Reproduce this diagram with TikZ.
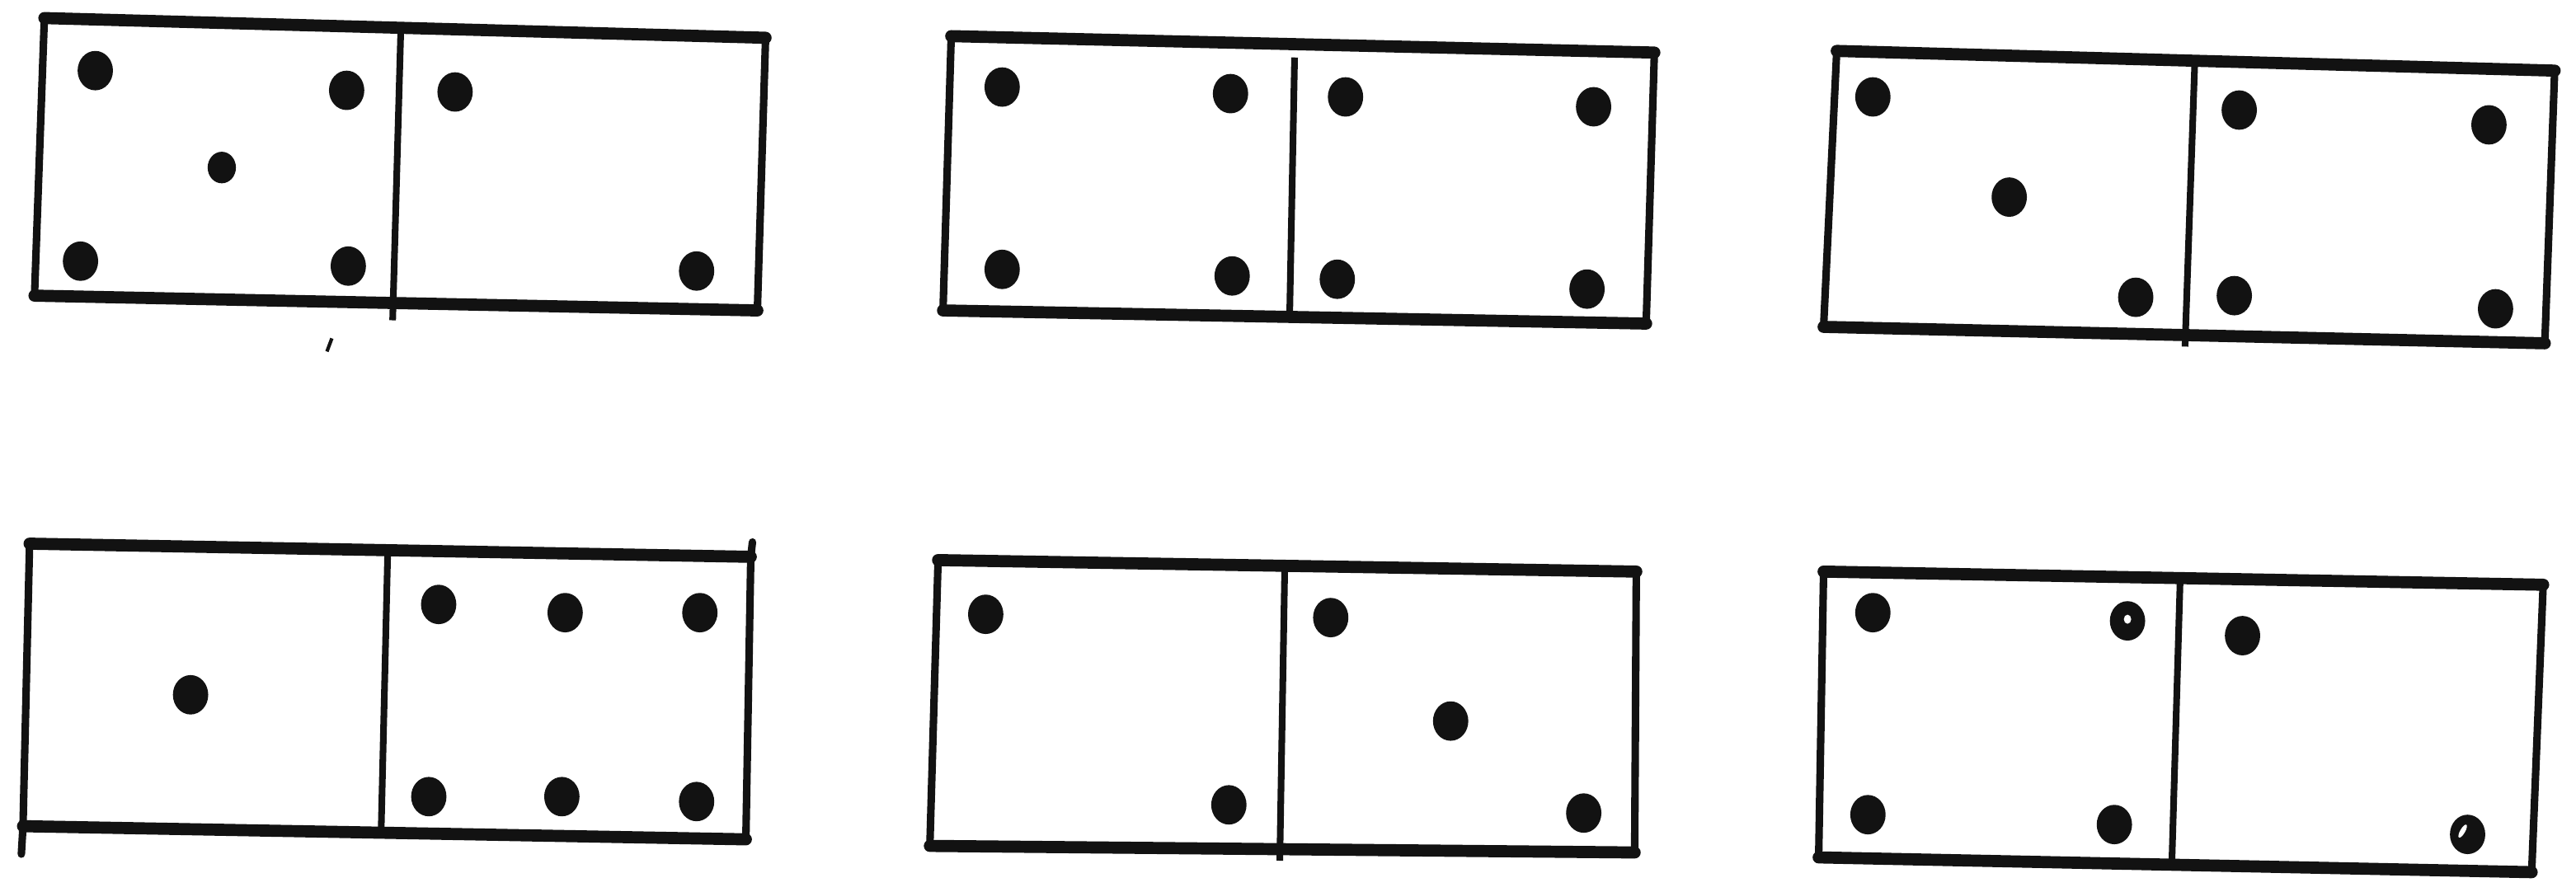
\documentclass[tikz,border=0pt]{standalone}
\usepackage{tikz}
\definecolor{tinta}{HTML}{121212}
\tikzset{
  borda/.style={draw=tinta, line width=4.2pt, line cap=round},
  lado/.style={draw=tinta, line width=2.6pt, line cap=round},
  meio/.style={draw=tinta, line width=2.3pt},
}
\newcommand{\pinta}[2][1]{%
  \fill[tinta] #2 ellipse[x radius=#1*2.15mm, y radius=#1*2.4mm];}
\newcommand{\pedra}[6]{%
  \draw[borda] #1 -- #2;
  \draw[borda] #4 -- #3;
  \draw[lado] #1 -- #4;
  \draw[lado] #2 -- #3;
  \draw[meio] #5 -- #6;}

\begin{document}
\begin{tikzpicture}[x=0.2mm, y=-0.2mm]
  \useasboundingbox (0,0) rectangle (1568,543);
  % fila de cima
  \pedra{(27,11)}{(466,23)}{(461,189)}{(21,180)}{(244,17)}{(239,195)}
  \foreach \x/\y in {58/43, 211/55, 49/159, 212/162, 277/56, 424/165}
    \pinta{(\x,\y)};
  \pinta[0.8]{(135,102)}
  \draw[tinta, line width=1.2pt] (199,214) -- (202,206);
  \pedra{(579,22)}{(1007,32)}{(1002,197)}{(574,189)}{(788,35)}{(785,192)}
  \foreach \x/\y in {610/53, 749/57, 610/164, 750/168, 819/59, 970/65, 814/170, 966/176}
    \pinta{(\x,\y)};
  \pedra{(1118,31)}{(1555,43)}{(1549,209)}{(1110,199)}{(1336,36)}{(1330,211)}
  \foreach \x/\y in {1140/59, 1223/120, 1300/181, 1363/67, 1515/76, 1360/180, 1519/188}
    \pinta{(\x,\y)};
  % fila de baixo
  \pedra{(18,331)}{(457,339)}{(454,511)}{(14,503)}{(236,336)}{(232,506)}
  \draw[lado] (14,503) -- (13,520);
  \draw[lado] (457,339) -- (458,330);
  \foreach \x/\y in {116/423, 267/368, 344/373, 426/373, 261/485, 342/485, 424/488}
    \pinta{(\x,\y)};
  \pedra{(571,341)}{(996,348)}{(995,519)}{(566,515)}{(782,346)}{(779,524)}
  \foreach \x/\y in {600/374, 748/490, 810/376, 883/439, 964/495}
    \pinta{(\x,\y)};
  \pedra{(1110,348)}{(1548,356)}{(1541,531)}{(1107,522)}{(1327,354)}{(1322,525)}
  \foreach \x/\y in {1140/373, 1295/378, 1137/496, 1287/502, 1365/387, 1502/508}
    \pinta{(\x,\y)};
  \fill[white] (1295,377) ellipse (0.45mm and 0.55mm);
  \fill[white, rotate around={-30:(1499,506)}] (1499,506) ellipse (0.3mm and 0.9mm);
\end{tikzpicture}
\end{document}
